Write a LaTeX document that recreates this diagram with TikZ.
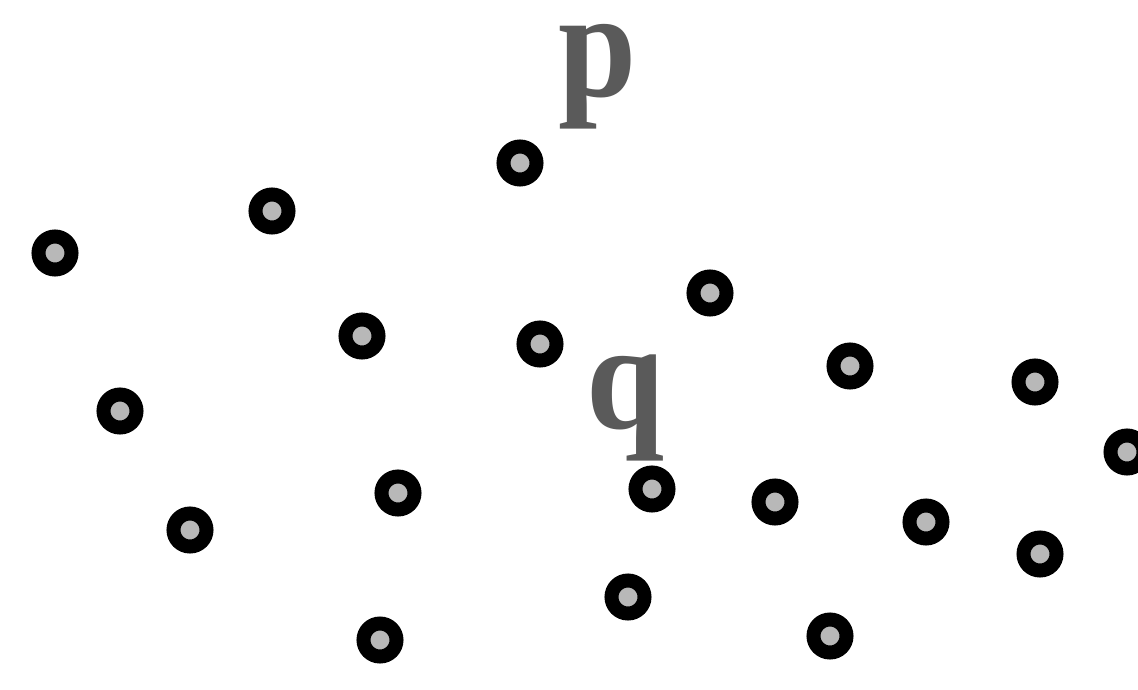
\documentclass[tikz,border=0pt]{standalone}
\usepackage{fontspec}
\newfontfamily\lblfont{Liberation Serif}
\definecolor{lblgray}{HTML}{5A5A5A}
\definecolor{holegray}{HTML}{B8B8B8}
\begin{document}
\begin{tikzpicture}[x=1pt,y=-1pt,
  pt/.style={circle,draw=black,line width=14pt,fill=holegray,minimum size=33pt,inner sep=0pt},
  lbl/.style={text=lblgray,inner sep=0pt,anchor=base,font=\lblfont\bfseries\fontsize{148}{148}\selectfont}]
\useasboundingbox[fill=white] (0,0) rectangle (1138,689);
\node[pt] (n1) at (55,253) {};
\node[pt] (n2) at (272,211) {};
\node[pt] (n3) at (520,163) {};
\node[pt] (n4) at (362,336) {};
\node[pt] (n5) at (540,344) {};
\node[pt] (n6) at (710,293) {};
\node[pt] (n7) at (120,411) {};
\node[pt] (n8) at (850,366) {};
\node[pt] (n9) at (1035,382) {};
\node[pt] (n10) at (1127,452) {};
\node[pt] (n11) at (190,530) {};
\node[pt] (n12) at (398,493) {};
\node[pt] (n13) at (652,489) {};
\node[pt] (n14) at (775,502) {};
\node[pt] (n15) at (926,522) {};
\node[pt] (n16) at (1040,554) {};
\node[pt] (n17) at (380,640) {};
\node[pt] (n18) at (628,597) {};
\node[pt] (n19) at (830,636) {};
\node[lbl] (p) at (598,96) {\scalebox{0.95}[1.035]{p}};
\node[lbl] (q) at (626,428) {\scalebox{0.95}[1.035]{q}};
\end{tikzpicture}
\end{document}
